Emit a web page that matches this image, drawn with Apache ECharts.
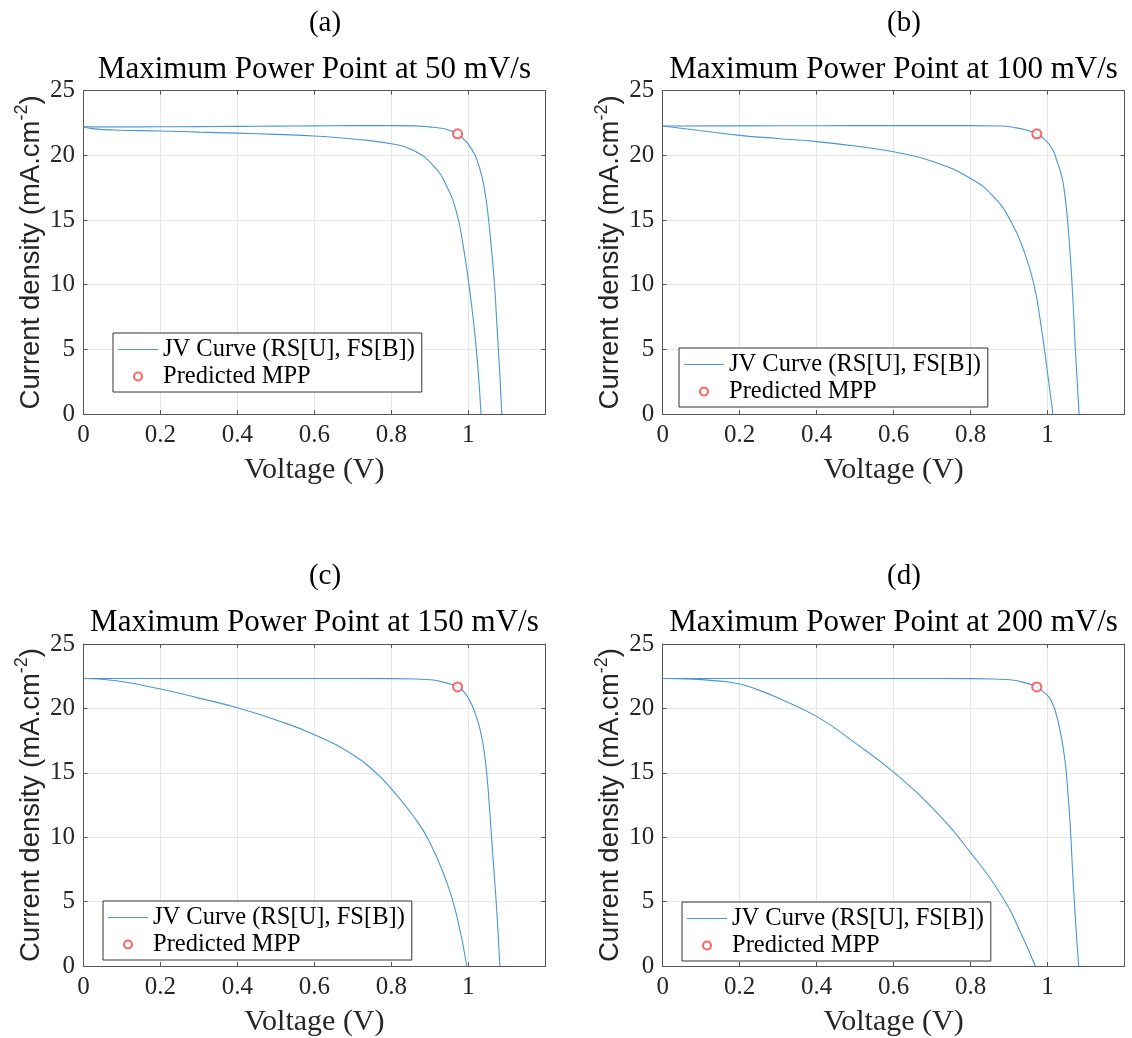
<!DOCTYPE html>
<html>
<head>
<meta charset="utf-8">
<script src="https://cdn.jsdelivr.net/npm/echarts@6/dist/echarts.min.js"></script>
<style>
  html, body { margin: 0; padding: 0; background: #ffffff; }
  #chart { width: 1132px; height: 1038px; }
</style>
</head>
<body>
<div id="chart"></div>
<script>
// Scan rate of each panel (mV/s) and the panel tags
const scanRates = [50, 100, 150, 200];
const panelTags = ['(a)', '(b)', '(c)', '(d)'];

// Reverse scan (upper branch): voltage (V) and current density (mA/cm^2)
const rs50V  = [0, 0.1, 0.2, 0.3, 0.4, 0.5, 0.6, 0.7, 0.8, 0.86, 0.9, 0.93, 0.95, 0.972, 0.987, 1.0, 1.01, 1.02, 1.035, 1.045, 1.052, 1.06, 1.068, 1.073, 1.078, 1.083, 1.087];
const rs50J  = [22.2, 22.2, 22.21, 22.22, 22.24, 22.26, 22.28, 22.3, 22.3, 22.28, 22.2, 22.1, 21.95, 21.67, 21.3, 20.85, 20.4, 19.85, 18.4, 16.8, 15.2, 12.8, 10.0, 7.6, 5.0, 2.4, 0];
const rs100V = [0, 0.2, 0.4, 0.6, 0.8, 0.88, 0.912, 0.94, 0.972, 0.99, 1.003, 1.015, 1.024, 1.034, 1.042, 1.052, 1.063, 1.072, 1.077, 1.082];
const rs100J = [22.27, 22.28, 22.29, 22.3, 22.3, 22.27, 22.16, 22.0, 21.68, 21.3, 20.9, 20.35, 19.6, 18.7, 17.6, 15.0, 10.4, 5.2, 2.6, 0];
const rs150V = [0, 0.2, 0.4, 0.6, 0.8, 0.86, 0.909, 0.94, 0.972, 0.988, 1.0, 1.011, 1.022, 1.031, 1.039, 1.046, 1.052, 1.058, 1.065, 1.07, 1.074, 1.078, 1.082];
const rs150J = [22.32, 22.32, 22.32, 22.32, 22.31, 22.28, 22.2, 22.0, 21.67, 21.3, 20.8, 20.15, 19.25, 18.3, 17.06, 15.5, 13.5, 11.0, 8.04, 6.0, 4.2, 2.2, 0];
const rs200V = [0, 0.2, 0.4, 0.6, 0.8, 0.86, 0.909, 0.94, 0.972, 0.988, 1.003, 1.014, 1.024, 1.035, 1.046, 1.053, 1.059, 1.064, 1.069, 1.073, 1.077, 1.081];
const rs200J = [22.32, 22.32, 22.32, 22.32, 22.31, 22.28, 22.2, 22.0, 21.67, 21.3, 20.9, 20.3, 19.4, 17.9, 15.8, 13.4, 10.9, 8.0, 5.3, 3.4, 1.6, 0];

// Forward scan (bottom branch): voltage (V) and current density (mA/cm^2)
const fs50V  = [0, 0.03, 0.08, 0.2, 0.3, 0.4, 0.5, 0.6, 0.7, 0.8, 0.857, 0.909, 0.944, 0.97, 0.987, 1.0, 1.013, 1.024, 1.033];
const fs50J  = [22.2, 22.05, 21.96, 21.88, 21.8, 21.72, 21.62, 21.5, 21.27, 20.9, 20.4, 19.2, 17.6, 15.52, 12.94, 10.36, 7.27, 3.94, 0];
const fs100V = [0, 0.1, 0.2, 0.3, 0.4, 0.5, 0.6, 0.704, 0.8, 0.86, 0.903, 0.938, 0.964, 0.981, 0.998, 1.014];
const fs100J = [22.27, 21.9, 21.55, 21.3, 21.06, 20.72, 20.28, 19.5, 18.22, 16.8, 15.0, 12.68, 10.1, 7.27, 3.66, 0];
const fs150V = [0, 0.08, 0.2, 0.3, 0.4, 0.5, 0.6, 0.7, 0.76, 0.8, 0.857, 0.9, 0.944, 0.97, 0.996];
const fs150J = [22.32, 22.16, 21.5, 20.8, 20.05, 19.1, 17.96, 16.4, 15.0, 13.75, 11.65, 9.59, 6.49, 3.9, 0];
const fs200V = [0, 0.08, 0.14, 0.2, 0.25, 0.3, 0.4, 0.5, 0.6, 0.7, 0.8, 0.886, 0.93, 0.968];
const fs200J = [22.32, 22.27, 22.14, 21.9, 21.42, 20.8, 19.38, 17.32, 15.05, 12.3, 8.8, 5.2, 2.6, 0];

// Predicted maximum power point of each panel
const mppV = [0.972, 0.972, 0.972, 0.972];
const mppJ = [21.67, 21.67, 21.67, 21.67];

// Axis ranges and tick steps
const voltageRange = [0, 1.2];
const voltageStep = 0.2;
const currentRange = [0, 25];
const currentStep = 5;

const LINE_NAME = 'JV Curve (RS[U], FS[B])';
const MPP_NAME = 'Predicted MPP';

const SERIF = "'Liberation Serif', 'Times New Roman', serif";
const SANS = "'Liberation Sans', Arial, sans-serif";
const AXIS_COLOR = '#555555';
const TEXT_COLOR = '#262626';
const LINE_COLOR = '#4a96d4';
const MPP_COLOR = '#ff3c3c';

const rsV = [rs50V, rs100V, rs150V, rs200V];
const rsJ = [rs50J, rs100J, rs150J, rs200J];
const fsV = [fs50V, fs100V, fs150V, fs200V];
const fsJ = [fs50J, fs100J, fs150J, fs200J];

// Plot-area rectangles of the 2x2 layout
const grids = [
  { left: 83.5, top: 90.7, width: 461.8, height: 323.4 },
  { left: 662.7, top: 90.7, width: 461.8, height: 323.4 },
  { left: 83.5, top: 644, width: 461.8, height: 323.4 },
  { left: 662.7, top: 644, width: 461.8, height: 323.4 }
];
const legendPos = [
  { left: 113, top: 333 },
  { left: 679, top: 348 },
  { left: 103, top: 901 },
  { left: 682, top: 902 }
];
const tagCenterX = [325, 904, 325, 904];

const zip = (xs, ys) => xs.map((x, i) => [x, ys[i]]);

const option = {
  animation: false,
  backgroundColor: '#ffffff',
  title: [],
  legend: [],
  grid: [],
  xAxis: [],
  yAxis: [],
  series: []
};

grids.forEach((g, i) => {
  const rowShift = i < 2 ? 0 : 553.3;
  const cx = g.left + g.width / 2;

  option.grid.push(Object.assign({ containLabel: false }, g));

  option.title.push({
    text: panelTags[i],
    left: tagCenterX[i], top: 9 + rowShift, padding: 0,
    textAlign: 'center',
    textStyle: { fontFamily: SERIF, fontSize: 29, fontWeight: 'normal', color: '#000' }
  });
  option.title.push({
    text: 'Maximum Power Point at ' + scanRates[i] + ' mV/s',
    left: cx, top: 54 + rowShift, padding: 0,
    textAlign: 'center',
    textStyle: { fontFamily: SERIF, fontSize: 31, fontWeight: 'normal', color: '#000' }
  });

  const baseX = {
    type: 'value', gridIndex: i,
    min: voltageRange[0], max: voltageRange[1], interval: voltageStep,
    axisLine: { show: true, onZero: false, lineStyle: { color: AXIS_COLOR, width: 1 } },
    axisTick: { show: true, inside: true, length: 4, lineStyle: { color: AXIS_COLOR } }
  };
  option.xAxis.push(Object.assign({}, baseX, {
    position: 'bottom',
    name: 'Voltage (V)', nameLocation: 'middle', nameGap: 41,
    nameTextStyle: { fontFamily: SERIF, fontSize: 30, color: TEXT_COLOR },
    axisLabel: { show: true, showMaxLabel: false, margin: 9, fontFamily: SERIF, fontSize: 25, color: TEXT_COLOR },
    splitLine: { show: true, lineStyle: { color: '#e6e6e6', width: 1 } }
  }));
  option.xAxis.push(Object.assign({}, baseX, {
    position: 'top',
    axisLabel: { show: false },
    splitLine: { show: false }
  }));

  const baseY = {
    type: 'value', gridIndex: i,
    min: currentRange[0], max: currentRange[1], interval: currentStep,
    axisLine: { show: true, onZero: false, lineStyle: { color: AXIS_COLOR, width: 1 } },
    axisTick: { show: true, inside: true, length: 4, lineStyle: { color: AXIS_COLOR } }
  };
  option.yAxis.push(Object.assign({}, baseY, {
    position: 'left',
    name: '{m|Current density (mA.cm}{s|-2}{m|)}',
    nameLocation: 'middle', nameGap: 34,
    nameTextStyle: {
      color: TEXT_COLOR,
      rich: {
        m: { fontFamily: SANS, fontSize: 27.5, lineHeight: 36, color: TEXT_COLOR },
        s: { fontFamily: SANS, fontSize: 18, lineHeight: 18, verticalAlign: 'top', color: TEXT_COLOR }
      }
    },
    axisLabel: { show: true, margin: 8.5, fontFamily: SERIF, fontSize: 25, color: TEXT_COLOR },
    splitLine: { show: true, lineStyle: { color: '#e6e6e6', width: 1 } }
  }));
  option.yAxis.push(Object.assign({}, baseY, {
    position: 'right',
    axisLabel: { show: false },
    splitLine: { show: false }
  }));

  const lineSeries = (data) => ({
    name: LINE_NAME, type: 'line',
    xAxisIndex: 2 * i, yAxisIndex: 2 * i,
    data: data,
    symbol: 'none', showSymbol: false,
    smooth: 0.5,
    lineStyle: { color: LINE_COLOR, width: 1.1 },
    itemStyle: { color: LINE_COLOR },
    silent: true, z: 3
  });
  option.series.push(lineSeries(zip(rsV[i], rsJ[i])));
  option.series.push(lineSeries(zip(fsV[i], fsJ[i])));
  option.series.push({
    name: MPP_NAME, type: 'scatter',
    xAxisIndex: 2 * i, yAxisIndex: 2 * i,
    data: [[mppV[i], mppJ[i]]],
    symbol: 'emptyCircle', symbolSize: 9,
    itemStyle: { color: MPP_COLOR, borderWidth: 1 },
    silent: true, z: 4
  });

  option.legend.push({
    left: legendPos[i].left, top: legendPos[i].top,
    orient: 'vertical',
    data: [
      { name: LINE_NAME, icon: 'path://M0,0 L40,0 L40,1.1 L0,1.1 Z' },
      { name: MPP_NAME }
    ],
    selectedMode: false,
    itemWidth: 40, itemHeight: 8, itemGap: 2,
    padding: [4, 7, 3, 5],
    backgroundColor: '#ffffff',
    borderColor: '#333333', borderWidth: 1, borderRadius: 0,
    textStyle: { fontFamily: SERIF, fontSize: 24.5, color: '#000' },
    z: 10
  });
});

const chart = echarts.init(document.getElementById('chart'), null, { renderer: 'canvas' });
chart.setOption(option);
</script>
</body>
</html>
